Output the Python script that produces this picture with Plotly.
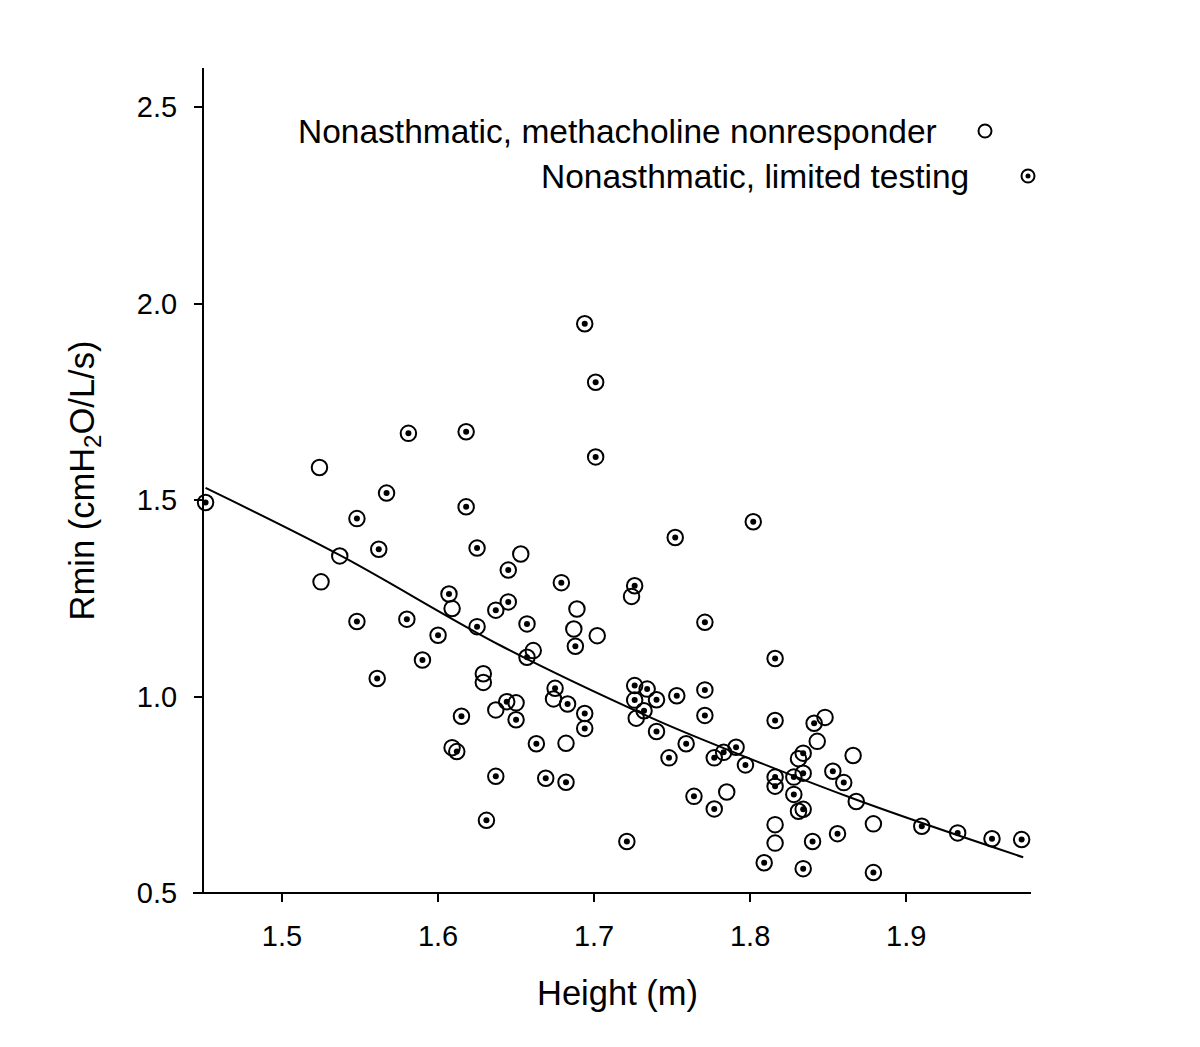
import plotly.graph_objects as go

# Nonasthmatic, methacholine nonresponder (open circles)
open_h = [1.524, 1.525, 1.537, 1.609, 1.653, 1.724, 1.689, 1.687, 1.702, 1.661,
          1.629, 1.629, 1.674, 1.650, 1.637, 1.727, 1.682, 1.609, 1.848, 1.843,
          1.866, 1.831, 1.868, 1.785, 1.831, 1.816, 1.816, 1.879]
open_r = [1.583, 1.292, 1.358, 1.224, 1.363, 1.255, 1.223, 1.172, 1.155, 1.117,
          1.058, 1.036, 0.994, 0.984, 0.966, 0.945, 0.881, 0.870, 0.947, 0.886,
          0.850, 0.842, 0.733, 0.757, 0.708, 0.674, 0.627, 0.676]

# Nonasthmatic, limited testing (circles with dot)
lim_h = [1.451, 1.581, 1.618, 1.567, 1.618, 1.548, 1.562, 1.625, 1.607, 1.637,
         1.548, 1.580, 1.600, 1.625, 1.590, 1.561, 1.694, 1.701, 1.701, 1.802,
         1.752, 1.645, 1.679, 1.726, 1.645, 1.657, 1.688, 1.771, 1.657, 1.816,
         1.675, 1.683, 1.644, 1.650, 1.615, 1.694, 1.694, 1.726, 1.734, 1.726,
         1.740, 1.753, 1.732, 1.740, 1.759, 1.748, 1.764, 1.663, 1.612, 1.637,
         1.669, 1.682, 1.631, 1.721, 1.771, 1.771, 1.816, 1.841, 1.777, 1.783,
         1.791, 1.797, 1.834, 1.853, 1.860, 1.834, 1.828, 1.816, 1.816, 1.828,
         1.777, 1.834, 1.840, 1.856, 1.809, 1.834, 1.879, 1.910, 1.933, 1.955,
         1.974]
lim_r = [1.494, 1.670, 1.674, 1.518, 1.483, 1.453, 1.375, 1.378, 1.261, 1.220,
         1.191, 1.197, 1.156, 1.178, 1.093, 1.046, 1.949, 1.800, 1.610, 1.445,
         1.405, 1.322, 1.290, 1.282, 1.241, 1.185, 1.128, 1.189, 1.100, 1.097,
         1.021, 0.981, 0.987, 0.941, 0.950, 0.957, 0.919, 1.028, 1.019, 0.991,
         0.992, 1.002, 0.964, 0.911, 0.880, 0.844, 0.746, 0.880, 0.860, 0.797,
         0.792, 0.782, 0.685, 0.631, 1.017, 0.952, 0.939, 0.932, 0.844, 0.858,
         0.871, 0.826, 0.856, 0.810, 0.781, 0.805, 0.795, 0.795, 0.772, 0.751,
         0.714, 0.713, 0.631, 0.651, 0.577, 0.562, 0.552, 0.670, 0.653, 0.638,
         0.636]

# Regression curve
fit_h = [1.451, 1.537, 1.640, 1.736, 1.768, 1.869, 1.975]
fit_r = [1.531, 1.360, 1.130, 0.947, 0.893, 0.736, 0.591]

x_ticks = [1.5, 1.6, 1.7, 1.8, 1.9]
y_ticks = [0.5, 1.0, 1.5, 2.0, 2.5]
legend_labels = ["Nonasthmatic, methacholine nonresponder", "Nonasthmatic, limited testing"]

FONT = "Liberation Sans, Arial, sans-serif"
fig = go.Figure()

fig.add_trace(go.Scatter(x=fit_h, y=fit_r, mode="lines",
                         line=dict(color="black", width=2, shape="spline", smoothing=1.0),
                         hoverinfo="skip", showlegend=False, cliponaxis=False))
fig.add_trace(go.Scatter(x=open_h, y=open_r, mode="markers", name=legend_labels[0],
                         marker=dict(symbol="circle-open", size=15.5, color="black",
                                     line=dict(width=2, color="black")),
                         showlegend=False, cliponaxis=False))
fig.add_trace(go.Scatter(x=lim_h, y=lim_r, mode="markers", name=legend_labels[1],
                         marker=dict(symbol="circle-open", size=15.5, color="black",
                                     line=dict(width=2, color="black")),
                         showlegend=False, cliponaxis=False))
fig.add_trace(go.Scatter(x=lim_h, y=lim_r, mode="markers", hoverinfo="skip",
                         marker=dict(symbol="circle", size=6, color="black"),
                         showlegend=False, cliponaxis=False))

# page body has an 8 px margin, so the figure is drawn 8 px right and down
OFF = 8
PL, PR, PT, PB = 204, 1031, 68, 893   # plot area in window pixels
W, H = 1192, 1039
L, T = PL - OFF, PT - OFF
R = W - (PR - OFF)
B = H - (PB - OFF)
pw, ph = PR - PL, PB - PT

def px_to_paper(px, py):
    return (px - PL) / pw, (PB - py) / ph

shapes = []
# x axis line extending slightly left of the y axis
x0p, _ = px_to_paper(193, 0)
shapes.append(dict(type="line", xref="paper", yref="paper", x0=x0p, x1=1.0, y0=0, y1=0,
                   line=dict(color="black", width=2)))
# legend symbols
lx1, ly1 = px_to_paper(985, 131)
lx2, ly2 = px_to_paper(1028, 176)
for (lx, ly) in [(lx1, ly1), (lx2, ly2)]:
    shapes.append(dict(type="circle", xref="paper", yref="paper", xsizemode="pixel",
                       ysizemode="pixel", xanchor=lx, yanchor=ly, x0=-6.5, x1=6.5,
                       y0=-6.5, y1=6.5, line=dict(color="black", width=2)))
shapes.append(dict(type="circle", xref="paper", yref="paper", xsizemode="pixel",
                   ysizemode="pixel", xanchor=lx2, yanchor=ly2, x0=-2.5, x1=2.5,
                   y0=-2.5, y1=2.5, fillcolor="black", line=dict(color="black", width=0)))

annotations = []
tx1, ty1 = px_to_paper(939, 131)
tx2, ty2 = px_to_paper(971, 177)
annotations.append(dict(text=legend_labels[0], xref="paper", yref="paper", x=tx1, y=ty1,
                        xanchor="right", yanchor="middle", showarrow=False,
                        font=dict(family=FONT, size=33.5, color="black")))
annotations.append(dict(text=legend_labels[1], xref="paper", yref="paper", x=tx2, y=ty2,
                        xanchor="right", yanchor="middle", showarrow=False,
                        font=dict(family=FONT, size=33.5, color="black")))

fig.update_layout(
    width=W, height=H,
    margin=dict(l=L, r=R, t=T, b=B, pad=0),
    paper_bgcolor="white", plot_bgcolor="white",
    font=dict(family=FONT, color="black"),
    shapes=shapes, annotations=annotations,
    showlegend=False,
)
fig.update_xaxes(range=[1.45, 1.98], tickvals=x_ticks, ticktext=[f"{v:.1f}" for v in x_ticks],
                 showgrid=False, zeroline=False, showline=False,
                 ticks="outside", ticklen=8, tickwidth=2, tickcolor="black",
                 tickfont=dict(family=FONT, size=29, color="black"),
                 ticklabelstandoff=9,
                 title=dict(text="Height (m)", font=dict(family=FONT, size=34.5, color="black"),
                            standoff=30))
fig.update_yaxes(range=[0.5, 2.6], tickvals=y_ticks, ticktext=[f"{v:.1f}" for v in y_ticks],
                 showgrid=False, zeroline=False, showline=True, linecolor="black", linewidth=2,
                 ticks="outside", ticklen=8, tickwidth=2, tickcolor="black",
                 tickfont=dict(family=FONT, size=29, color="black"),
                 ticklabelstandoff=11,
                 title=dict(text="Rmin (cmH<sub>2</sub>O/L/s)",
                            font=dict(family=FONT, size=34.5, color="black"), standoff=32))

fig.write_html("out.html")
